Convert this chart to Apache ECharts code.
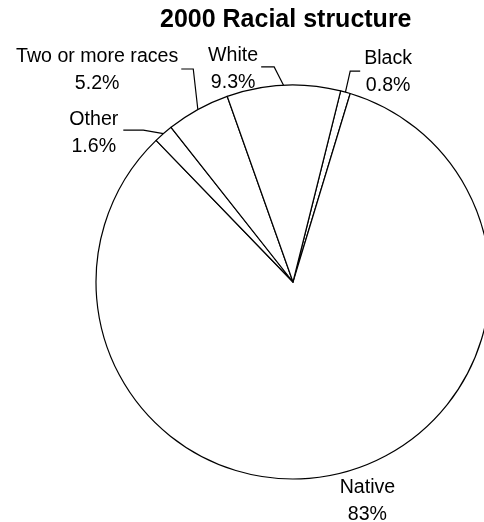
<!DOCTYPE html>
<html>
<head>
<meta charset="utf-8">
<script src="https://cdn.jsdelivr.net/npm/echarts@6/dist/echarts.min.js"></script>
<style>
  html, body { margin: 0; padding: 0; background: #fff; }
  #chart { width: 484px; height: 522px; }
</style>
</head>
<body>
<div id="chart"></div>
<script>
// ---- data ----
const categories = ['Black', 'Native', 'Other', 'Two or more races', 'White'];
const shares = [0.8, 83, 1.6, 5.2, 9.3];
const chartTitle = '2000 Racial structure';

// ---- label layout (offset of label centre from the slice's arc anchor; leader line style) ----
const labelOffsets = {
  'Black':             { ox: 42.7,   oy: -20.0, run: 10, gap: 4, ly: -1, line: true },
  'Native':            { ox: 28.2,   oy: 27.4,  run: 0,  gap: 0, ly: 0,  line: false },
  'Other':             { ox: -69.6,  oy: -0.5,  run: 20, gap: 5, ly: -3, line: true },
  'Two or more races': { ox: -100.7, oy: -39.0, run: 12, gap: 3, ly: -1.5, line: true },
  'White':             { ox: -50.4,  oy: -16.3, run: 13, gap: 3, ly: -2, line: true }
};

const FONT = 'Liberation Sans, Arial, Helvetica, sans-serif';

const seriesData = categories.map((name, i) => ({
  name: name,
  value: shares[i],
  labelLine: labelOffsets[name].line ? undefined : { lineStyle: { opacity: 0 } }
}));

const chart = echarts.init(document.getElementById('chart'), null, { renderer: 'canvas' });

chart.setOption({
  animation: false,
  backgroundColor: '#ffffff',
  title: {
    text: chartTitle,
    left: 160,
    top: 8,
    padding: 0,
    textStyle: { fontFamily: FONT, fontSize: 25, fontWeight: 'bold', color: '#000' }
  },
  series: [{
    type: 'pie',
    center: [293, 282],
    radius: 197,
    startAngle: 76,
    clockwise: true,
    avoidLabelOverlap: false,
    minShowLabelAngle: 0,
    emphasis: { disabled: true },
    itemStyle: { color: '#ffffff', borderColor: '#000000', borderWidth: 1.2 },
    label: {
      show: true,
      position: 'outside',
      formatter: '{b}\n{c}%',
      fontFamily: FONT,
      fontSize: 19.6,
      lineHeight: 27,
      color: '#000'
    },
    labelLine: {
      show: true,
      length: 15,
      length2: 10,
      smooth: false,
      lineStyle: { color: '#000', width: 1.2 }
    },
    labelLayout: function (params) {
      const name = categories[params.dataIndex];
      const cfg = labelOffsets[name];
      const pts = params.labelLinePoints;
      if (!pts) return {};
      const p0 = pts[0];
      const cx = p0[0] + cfg.ox;
      const cy = p0[1] + cfg.oy;
      const half = params.labelRect.width / 2;
      const side = cfg.ox < 0 ? 1 : -1; // direction from text towards pie
      const endX = cx + side * (half + cfg.gap);
      const ly = cy + cfg.ly;
      const elbowX = endX + side * cfg.run;
      return {
        x: cx,
        y: cy,
        align: 'center',
        verticalAlign: 'middle',
        labelLinePoints: [[p0[0], p0[1]], [elbowX, ly], [endX, ly]]
      };
    },
    data: seriesData
  }]
});
</script>
</body>
</html>
